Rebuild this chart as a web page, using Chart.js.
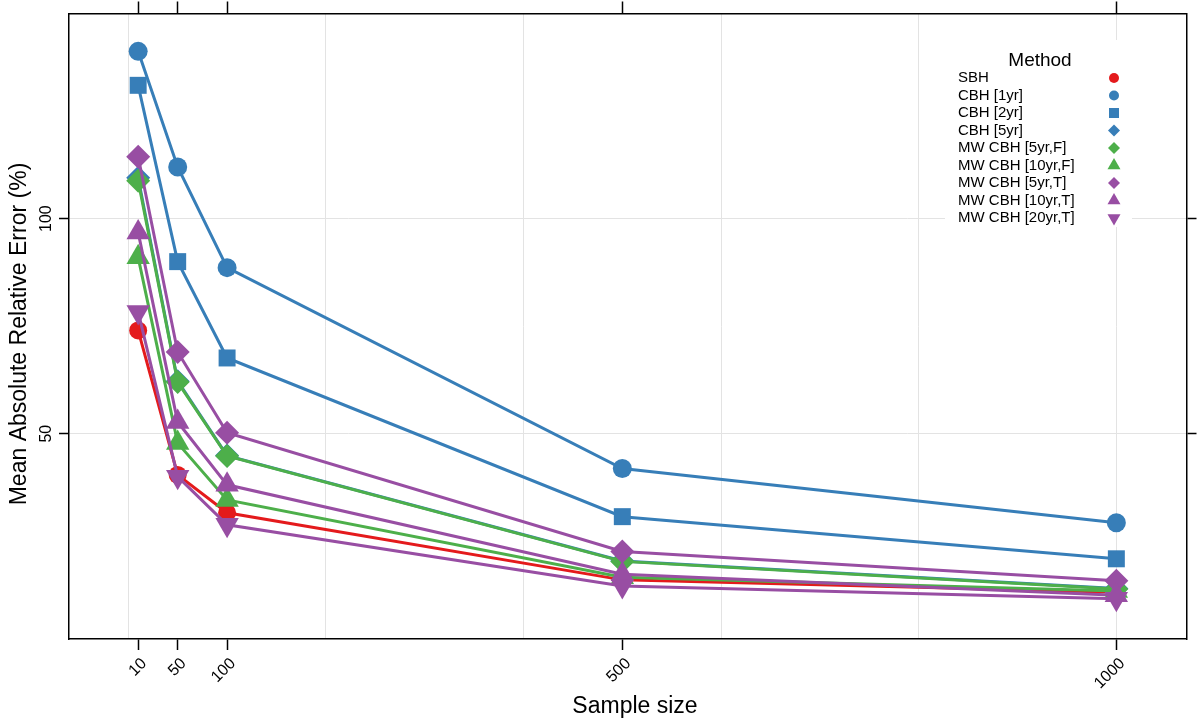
<!DOCTYPE html>
<html>
<head>
<meta charset="utf-8">
<title>Mean Absolute Relative Error by sample size</title>
<script src="https://cdn.jsdelivr.net/npm/chart.js@4.4.1/dist/chart.umd.min.js"></script>
<style>
  html, body { margin: 0; padding: 0; background: #fff; }
  #wrap { width: 1200px; height: 721px; }
</style>
</head>
<body>
<div id="wrap"><canvas id="chartMare" width="1200" height="721"></canvas></div>
<script>
// sample sizes on the x axis
const sampleSizes = [10, 50, 100, 500, 1000];
const xGridValues = [0, 200, 400, 600, 800, 1000];
const yTickValues = [50, 100];

// mean absolute relative error (%) per method
const sbh = [74.0, 40.4, 31.6, 16.0, 13.1];
const cbh1yr = [138.9, 112.0, 88.6, 41.9, 29.3];
const cbh2yr = [131.0, 90.0, 67.6, 30.7, 20.9];
const cbh5yr = [109.5, 62.2, 44.9, 20.4, 14.0];
const mwCbh5yrF = [108.8, 62.0, 44.8, 20.3, 13.9];
const mwCbh10yrF = [91.0, 47.8, 34.6, 16.6, 13.4];
const mwCbh5yrT = [114.4, 69.0, 50.2, 22.6, 15.8];
const mwCbh10yrT = [96.8, 52.7, 38.1, 17.3, 12.4];
const mwCbh20yrT = [78.3, 40.0, 28.8, 14.6, 11.6];

const methodNames = [
  "SBH", "CBH [1yr]", "CBH [2yr]", "CBH [5yr]", "MW CBH [5yr,F]",
  "MW CBH [10yr,F]", "MW CBH [5yr,T]", "MW CBH [10yr,T]", "MW CBH [20yr,T]",
];
const methodValues = [sbh, cbh1yr, cbh2yr, cbh5yr, mwCbh5yrF, mwCbh10yrF, mwCbh5yrT, mwCbh10yrT, mwCbh20yrT];

(function () {
  const RED = "#E41A1C", BLUE = "#377EB8", GREEN = "#4DAF4A", PURPLE = "#984EA3";
  const FONT = "'Liberation Sans', Arial, Helvetica, sans-serif";

  // marker style per method: [colour, shape, radius, rotation]
  const styles = [
    [RED, "circle", 9, 0],
    [BLUE, "circle", 9.5, 0],
    [BLUE, "rect", 12, 0],
    [BLUE, "rectRot", 12, 0],
    [GREEN, "rectRot", 12, 0],
    [GREEN, "triangle", 13.5, 0],
    [PURPLE, "rectRot", 12, 0],
    [PURPLE, "triangle", 13.5, 0],
    [PURPLE, "triangle", 13.5, 180],
  ];

  Chart.defaults.font.family = FONT;
  Chart.defaults.color = "#000";

  const datasets = methodNames.map((name, i) => ({
    label: name,
    data: sampleSizes.map((n, j) => ({ x: n, y: methodValues[i][j] })),
    borderColor: styles[i][0],
    backgroundColor: styles[i][0],
    pointBackgroundColor: styles[i][0],
    pointBorderWidth: 0,
    pointStyle: styles[i][1],
    pointRadius: styles[i][2],
    pointRotation: styles[i][3],
    borderWidth: 3,
    tension: 0,
    clip: false,
    // later methods painted on top, as in the original
    order: methodNames.length - i,
  }));

  function fixTicks(values) {
    return function (scale) {
      scale.ticks = values.map((v) => ({ value: v }));
    };
  }

  // small marker for the legend key
  function drawMarker(ctx, shape, x, y, r, rot) {
    ctx.beginPath();
    if (shape === "circle") {
      ctx.arc(x, y, r, 0, Math.PI * 2);
    } else if (shape === "rect") {
      ctx.rect(x - r, y - r, 2 * r, 2 * r);
    } else if (shape === "rectRot") {
      ctx.moveTo(x, y - r);
      ctx.lineTo(x + r, y);
      ctx.lineTo(x, y + r);
      ctx.lineTo(x - r, y);
    } else if (shape === "triangle") {
      const s = rot ? -1 : 1;
      ctx.moveTo(x, y - s * r);
      ctx.lineTo(x + r * 0.866, y + s * r * 0.5);
      ctx.lineTo(x - r * 0.866, y + s * r * 0.5);
    }
    ctx.closePath();
    ctx.fill();
  }

  const legendShapes = [5, 5, 5, 6, 6, 7.5, 6, 7.5, 7.5];
  const legendSquare = 5;

  const extras = {
    id: "extras",
    beforeDatasetsDraw(chart) {
      // white key background hides the grid lines behind it
      const ctx = chart.ctx;
      ctx.save();
      ctx.fillStyle = "#fff";
      ctx.fillRect(945, 40, 187, 187);
      ctx.restore();
    },
    afterDraw(chart) {
      const ctx = chart.ctx;
      const x = chart.scales.x;
      const y = chart.scales.y;
      ctx.save();
      ctx.fillStyle = "#000";

      // x tick labels at 45 degrees, right end just past the tick
      ctx.font = "16px " + FONT;
      ctx.textAlign = "right";
      ctx.textBaseline = "middle";
      sampleSizes.forEach((n) => {
        ctx.save();
        ctx.translate(x.getPixelForValue(n) + 6, 661);
        ctx.rotate(-Math.PI / 4);
        ctx.fillText(String(n), 0, 0);
        ctx.restore();
      });

      // y tick labels, rotated like the original
      ctx.textAlign = "center";
      yTickValues.forEach((v) => {
        ctx.save();
        ctx.translate(47, y.getPixelForValue(v));
        ctx.rotate(-Math.PI / 2);
        ctx.fillText(String(v), 0, 0);
        ctx.restore();
      });

      // axis titles
      ctx.font = "23px " + FONT;
      ctx.fillText("Sample size", 635, 707);
      ctx.save();
      ctx.translate(20, 334);
      ctx.rotate(-Math.PI / 2);
      ctx.fillText("Mean Absolute Relative Error (%)", 0, 0);
      ctx.restore();

      // key
      ctx.font = "19px " + FONT;
      ctx.fillText("Method", 1040, 61);
      ctx.font = "15px " + FONT;
      ctx.textAlign = "left";
      methodNames.forEach((name, i) => {
        const ry = 78 + i * 17.5;
        ctx.fillStyle = "#000";
        ctx.fillText(name, 958, ry);
        ctx.fillStyle = styles[i][0];
        const shape = styles[i][1];
        const r = shape === "rect" ? legendSquare : legendShapes[i];
        drawMarker(ctx, shape, 1114, ry, r, styles[i][3]);
      });
      ctx.restore();
    },
  };

  const axisBorder = { display: true, color: "#000", width: 1.5 };

  new Chart(document.getElementById("chartMare"), {
    type: "line",
    data: { datasets: datasets },
    options: {
      responsive: false,
      animation: false,
      layout: { padding: 0 },
      plugins: { legend: { display: false }, tooltip: { enabled: false } },
      scales: {
        x: {
          type: "linear",
          position: "bottom",
          min: -60,
          max: 1071,
          afterBuildTicks: fixTicks(sampleSizes),
          afterFit: (s) => { s.height = 82; },
          border: axisBorder,
          grid: { drawOnChartArea: false, tickLength: 11, tickColor: "#000", tickWidth: 1.5 },
          ticks: { display: false },
        },
        xGrid: {
          type: "linear",
          position: "bottom",
          min: -60,
          max: 1071,
          afterBuildTicks: fixTicks(xGridValues),
          afterFit: (s) => { s.height = 0; },
          border: { display: false },
          grid: { drawTicks: false, color: "#e3e3e3", lineWidth: 1 },
          ticks: { display: false },
        },
        xTop: {
          type: "linear",
          position: "top",
          min: -60,
          max: 1071,
          afterBuildTicks: fixTicks(sampleSizes),
          afterFit: (s) => { s.height = 12; },
          border: axisBorder,
          grid: { drawOnChartArea: false, tickLength: 12, tickColor: "#000", tickWidth: 1.5 },
          ticks: { display: false },
        },
        y: {
          type: "linear",
          position: "left",
          min: 2.25,
          max: 147.7,
          afterBuildTicks: fixTicks(yTickValues),
          afterFit: (s) => { s.width = 69; },
          border: axisBorder,
          grid: { color: "#e3e3e3", lineWidth: 1, tickLength: 10, tickColor: "#000", tickWidth: 1.5 },
          ticks: { display: false },
        },
        yRight: {
          type: "linear",
          position: "right",
          min: 2.25,
          max: 147.7,
          afterBuildTicks: fixTicks(yTickValues),
          afterFit: (s) => { s.width = 12; },
          border: axisBorder,
          grid: { drawOnChartArea: false, tickLength: 10, tickColor: "#000", tickWidth: 1.5 },
          ticks: { display: false },
        },
      },
    },
    plugins: [extras],
  });
})();
</script>
</body>
</html>
